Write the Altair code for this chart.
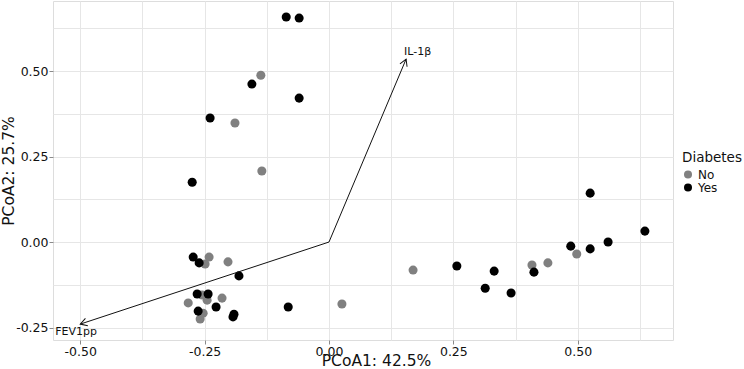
import math
import altair as alt
import pandas as pd

# PCoA sample scores, grouped by diabetes status
no_pc1 = [-0.137, -0.189, -0.135, -0.241, -0.249, -0.203, -0.255, -0.245, -0.283,
          -0.215, -0.253, -0.259, 0.026, 0.169, 0.408, 0.440, 0.498]
no_pc2 = [0.488, 0.348, 0.208, -0.044, -0.064, -0.058, -0.155, -0.170, -0.178,
          -0.164, -0.208, -0.225, -0.181, -0.082, -0.067, -0.061, -0.035]

yes_pc1 = [-0.086, -0.060, -0.155, -0.060, -0.239, -0.275, -0.273, -0.261, -0.181,
           -0.265, -0.243, -0.227, -0.263, -0.191, -0.193, -0.082, 0.257, 0.332,
           0.314, 0.366, 0.412, 0.486, 0.525, 0.561, 0.635, 0.525]
yes_pc2 = [0.658, 0.655, 0.462, 0.421, 0.363, 0.175, -0.044, -0.061, -0.099,
           -0.152, -0.152, -0.190, -0.202, -0.211, -0.219, -0.190, -0.070, -0.085,
           -0.135, -0.149, -0.088, -0.012, -0.020, 0.000, 0.032, 0.143]

# Fitted variable vectors (biplot arrows)
vectors = ["IL-1β", "FEV1pp"]
vec_pc1 = [0.155, -0.50]
vec_pc2 = [0.535, -0.24]

groups = ["No", "Yes"]
group_colors = ["#808080", "#000000"]

W, H = 620, 339
x_dom = [-0.5548, 0.6915]
y_dom = [-0.2865, 0.705]
FONT = "DejaVu Sans"
INK = "#111111"

samples = pd.DataFrame({
    "PC1": no_pc1 + yes_pc1,
    "PC2": no_pc2 + yes_pc2,
    "Diabetes": ["No"] * len(no_pc1) + ["Yes"] * len(yes_pc1),
})

# arrowhead rotation in screen space (clockwise from up)
sx = W / (x_dom[1] - x_dom[0])
sy = H / (y_dom[1] - y_dom[0])
angles = [math.degrees(math.atan2(dx * sx, dy * sy)) % 360 for dx, dy in zip(vec_pc1, vec_pc2)]
arrows = pd.DataFrame({
    "var": vectors,
    "PC1": vec_pc1,
    "PC2": vec_pc2,
    "x0": [0.0] * len(vectors),
    "y0": [0.0] * len(vectors),
    "angle": angles,
})

grid_x = [-0.5 + 0.125 * i for i in range(10)]
grid_y = [-0.25 + 0.125 * i for i in range(8)]
major = "datum.value * 4 == round(datum.value * 4)"
label_expr = f"{major} ? replace(format(datum.value, '.2f'), '\u2212', '-') : ''"


def axis(title, values, **kw):
    return alt.Axis(
        title=title, values=values, labelExpr=label_expr,
        tickOpacity={"condition": {"test": major, "value": 1}, "value": 0},
        tickColor="#8a8a8a", tickSize=4, tickWidth=1,
        gridColor="#e6e6e6", gridWidth=1, domain=False,
        labelFont=FONT, labelFontSize=12.5, labelColor=INK,
        labelPadding=1, titleFont=FONT, titleFontSize=15.5,
        titleFontWeight="normal", titleColor=INK, **kw,
    )


x_enc = alt.X("PC1:Q", scale=alt.Scale(domain=x_dom, nice=False, zero=False),
              axis=axis("PCoA1: 42.5%", grid_x, titleX=323, titleY=25.5,
                        titleAlign="center", titleBaseline="alphabetic"))
y_enc = alt.Y("PC2:Q", scale=alt.Scale(domain=y_dom, nice=False, zero=False),
              axis=axis("PCoA2: 25.7%", grid_y, titleX=-40, titleY=H / 2,
                        titleAlign="center", titleBaseline="alphabetic"))

points = alt.Chart(samples).mark_circle(size=82, opacity=1).encode(
    x=x_enc, y=y_enc,
    color=alt.Color("Diabetes:N",
                    scale=alt.Scale(domain=groups, range=group_colors),
                    legend=alt.Legend(orient="none", legendX=629, legendY=150,
                                      titleFont=FONT, titleFontSize=13.5,
                                      titleFontWeight="normal", titleColor=INK,
                                      labelFont=FONT, labelFontSize=12,
                                      labelColor=INK, symbolSize=64,
                                      symbolType="circle", rowPadding=1,
                                      labelOffset=4, titlePadding=4)),
)

base = alt.Chart(arrows)
shafts = base.mark_rule(color=INK, strokeWidth=1).encode(
    x="x0:Q", y="y0:Q", x2="PC1:Q", y2="PC2:Q",
)
heads = base.mark_point(shape="M -0.577 1 L 0 0 L 0.577 1", filled=False,
                        size=180, strokeWidth=1, color=INK, opacity=1).encode(
    x="PC1:Q", y="PC2:Q", angle=alt.Angle("angle:Q", scale=None),
)
label_il = base.transform_filter(alt.datum.var == "IL-1β").mark_text(
    align="left", baseline="middle", dx=-2, dy=-7, font=FONT, fontSize=11, color=INK,
).encode(x="PC1:Q", y="PC2:Q", text="var:N")
label_fev = base.transform_filter(alt.datum.var == "FEV1pp").mark_text(
    align="left", baseline="middle", dx=-25, dy=8, font=FONT, fontSize=11, color=INK,
).encode(x="PC1:Q", y="PC2:Q", text="var:N")

chart = alt.layer(points, shafts, heads, label_il, label_fev).properties(
    width=W, height=H,
    autosize=alt.AutoSizeParams(type="none"),
    padding={"left": 53, "top": 1, "right": 71, "bottom": 29},
).configure_view(stroke="#8a8a8a", strokeWidth=1).configure(background="white")

chart.save("out.html", embed_options={"renderer": "svg", "actions": False})
